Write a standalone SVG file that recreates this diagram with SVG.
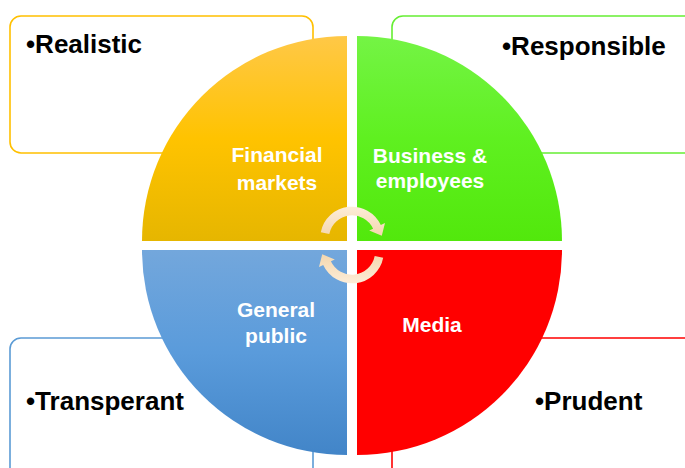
<svg xmlns="http://www.w3.org/2000/svg" xmlns:xlink="http://www.w3.org/1999/xlink" width="685" height="468" viewBox="0 0 685 468">
  <style>
    .box { fill: #FFFFFF; stroke-width: 1.6; }
    .point { font-family: "Liberation Sans", Arial, sans-serif; font-weight: bold; font-size: 26px; fill: #000000; }
    .label { font-family: "Liberation Sans", Arial, sans-serif; font-weight: bold; font-size: 21px; fill: #FFFFFF; text-anchor: middle; }
  </style>
  <defs>
    <linearGradient id="gYellow" x1="0" y1="0" x2="0" y2="1">
      <stop offset="0" stop-color="#FFC847"/>
      <stop offset="0.5" stop-color="#FFC300"/>
      <stop offset="1" stop-color="#E6B600"/>
    </linearGradient>
    <linearGradient id="gGreen" x1="0" y1="0" x2="0" y2="1">
      <stop offset="0" stop-color="#74F445"/>
      <stop offset="0.5" stop-color="#5FF020"/>
      <stop offset="1" stop-color="#52E80C"/>
    </linearGradient>
    <linearGradient id="gBlue" x1="0" y1="0" x2="0" y2="1">
      <stop offset="0" stop-color="#73A7DC"/>
      <stop offset="0.5" stop-color="#5A9BDB"/>
      <stop offset="1" stop-color="#4285C8"/>
    </linearGradient>
    <linearGradient id="gArrow" x1="0" y1="0" x2="0" y2="1">
      <stop offset="0" stop-color="#FDEDD8"/>
      <stop offset="1" stop-color="#F4D7AE"/>
    </linearGradient>
    <path id="cycleArrow" fill="url(#gArrow)"
          d="M 320.8 232.2 A 31.8 31.8 0 0 1 380.8 225.0 L 385.0 223.0 L 381.8 235.8 L 369.2 230.4 L 373.1 228.7 A 23.2 23.2 0 0 0 329.3 233.9 Z"/>
  </defs>

  <!-- corner boxes with the four qualities -->
  <g id="box-realistic">
    <rect class="box" x="10" y="16" width="303" height="137" rx="11" stroke="#FFC000"/>
    <text class="point" x="26" y="53">•Realistic</text>
  </g>
  <g id="box-responsible">
    <rect class="box" x="392" y="16" width="320" height="137" rx="11" stroke="#66EE33"/>
    <text class="point" x="502" y="55">•Responsible</text>
  </g>
  <g id="box-transperant">
    <rect class="box" x="10" y="338" width="303" height="150" rx="11" stroke="#5B9BD5"/>
    <text class="point" x="26" y="410">•Transperant</text>
  </g>
  <g id="box-prudent">
    <rect class="box" x="392" y="338" width="320" height="150" rx="11" stroke="#FF0000"/>
    <text class="point" x="535" y="410">•Prudent</text>
  </g>

  <!-- the four quadrants of the circle -->
  <g id="financial-markets">
    <path d="M 347 241 L 142 241 A 205 205 0 0 1 347 36 Z" fill="url(#gYellow)"/>
    <text class="label" x="277" y="162">Financial</text>
    <text class="label" x="277" y="190">markets</text>
  </g>
  <g id="business-employees">
    <path d="M 357 241 L 357 36 A 205 205 0 0 1 562 241 Z" fill="url(#gGreen)"/>
    <text class="label" x="430" y="163">Business &amp;</text>
    <text class="label" x="430" y="188">employees</text>
  </g>
  <g id="general-public">
    <path d="M 347 250 L 347 455 A 205 205 0 0 1 142 250 Z" fill="url(#gBlue)"/>
    <text class="label" x="276" y="317">General</text>
    <text class="label" x="276" y="343">public</text>
  </g>
  <g id="media">
    <path d="M 357 250 L 562 250 A 205 205 0 0 1 357 455 Z" fill="#FF0000"/>
    <text class="label" x="432" y="332">Media</text>
  </g>

  <!-- central cycle arrows -->
  <g id="connectors">
    <use xlink:href="#cycleArrow"/>
    <use xlink:href="#cycleArrow" transform="rotate(180 352 245)"/>
  </g>
</svg>
